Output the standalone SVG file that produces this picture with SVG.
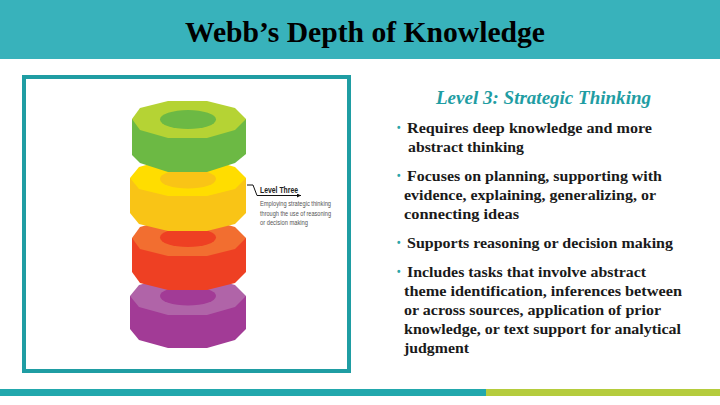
<svg xmlns="http://www.w3.org/2000/svg" width="720" height="405" viewBox="0 0 720 405">
<defs>
<marker id="arrow" markerWidth="5" markerHeight="5" refX="4" refY="2" orient="auto" markerUnits="userSpaceOnUse"><path d="M0 0L4 2L0 4Z" fill="#111"/></marker>
</defs>
<style>
.title{font:bold 29px "Liberation Serif",serif;fill:#000}
.head{font:italic bold 18.500px "Liberation Serif",serif;fill:#1f9da3}
.body{font:bold 15px "Liberation Serif",serif;fill:#1a1a1a}
.bul{font:bold 10px "Liberation Sans",sans-serif;fill:#2aa5a8}
.lab{font:bold 8.500px "Liberation Sans",sans-serif;fill:#222}
.sm{font:8px "Liberation Sans",sans-serif;fill:#555}
.lead{fill:none;stroke:#111;stroke-width:1}
</style>
<rect width="720" height="405" fill="#fff"/>
<rect id="header" width="720" height="59" fill="#38b2bb"/>
<text class="title" x="185" y="42" textLength="360" lengthAdjust="spacingAndGlyphs">Webb’s Depth of Knowledge</text>
<rect id="frame" x="24" y="77" width="325" height="294" fill="#fff" stroke="#1f9da3" stroke-width="4"/>
<g id="disk-purple">
<polygon fill="#a23b96" points="130,296 246,296 246,329 235,340 207,348 168,348 139,340 130,329"/>
<polygon fill="#b064a8" points="130,296 139,285 168,277 207,277 235,285 246,296 235,307 207,315 168,315 139,307"/>
<ellipse cx="188" cy="296" rx="28" ry="9.500" fill="#a23b96"/>
</g>
<g id="disk-red">
<polygon fill="#ee4023" points="132,238 246,238 246,272 235,283 207,290 168,290 140,283 132,272"/>
<polygon fill="#f26e30" points="132,238 140,227 168,219 207,219 235,227 246,238 235,249 207,256 168,256 140,249"/>
<ellipse cx="188" cy="237.500" rx="28" ry="9.500" fill="#ee4023"/>
</g>
<g id="disk-yellow">
<polygon fill="#f9c416" points="130,178 246,178 246,213 235,224 207,231 168,231 139,224 130,213"/>
<polygon fill="#ffdd00" points="130,178 139,167 168,159 207,159 235,167 246,178 235,189 207,196 168,196 139,189"/>
<ellipse cx="188" cy="179" rx="28" ry="9.500" fill="#f9c416"/>
</g>
<g id="disk-green">
<polygon fill="#6cb944" points="132,119 246,119 246,154 235,163 207,172 168,172 140,163 132,155"/>
<polygon fill="#b5d334" points="132,119 140,108 168,101 207,101 235,108 246,119 235,130 207,138 168,138 140,130"/>
<ellipse cx="188" cy="119.500" rx="28" ry="9.500" fill="#6cb944"/>
</g>
<g id="connectors">
<path class="lead" d="M247 185H253L257 195.500H301" marker-end="url(#arrow)"/>
</g>
<g id="label-level-three">
<text class="lab" x="260" y="192.500" textLength="38" lengthAdjust="spacingAndGlyphs">Level Three</text>
<text class="sm" x="260" y="205.500" textLength="71" lengthAdjust="spacingAndGlyphs">Employing strategic thinking</text>
<text class="sm" x="260" y="215.500" textLength="71" lengthAdjust="spacingAndGlyphs">through the use of reasoning</text>
<text class="sm" x="260" y="225" textLength="48" lengthAdjust="spacingAndGlyphs">or decision making</text>
</g>
<g id="content">
<text class="head" x="436" y="104" textLength="215" lengthAdjust="spacingAndGlyphs">Level 3: Strategic Thinking</text>
<text class="bul" x="397" y="131">•</text>
<text class="body" x="407" y="133" textLength="245" lengthAdjust="spacingAndGlyphs">Requires deep knowledge and more</text>
<text class="body" x="408" y="152" textLength="116" lengthAdjust="spacingAndGlyphs">abstract thinking</text>
<text class="bul" x="397" y="179">•</text>
<text class="body" x="407" y="181" textLength="255" lengthAdjust="spacingAndGlyphs">Focuses on planning, supporting with</text>
<text class="body" x="404" y="200" textLength="252" lengthAdjust="spacingAndGlyphs">evidence, explaining, generalizing, or</text>
<text class="body" x="404" y="219" textLength="115" lengthAdjust="spacingAndGlyphs">connecting ideas</text>
<text class="bul" x="397" y="246">•</text>
<text class="body" x="407" y="248" textLength="266" lengthAdjust="spacingAndGlyphs">Supports reasoning or decision making</text>
<text class="bul" x="397" y="275">•</text>
<text class="body" x="407" y="277" textLength="239" lengthAdjust="spacingAndGlyphs">Includes tasks that involve abstract</text>
<text class="body" x="404" y="296" textLength="278" lengthAdjust="spacingAndGlyphs">theme identification, inferences between</text>
<text class="body" x="404" y="315" textLength="257" lengthAdjust="spacingAndGlyphs">or across sources, application of prior</text>
<text class="body" x="404" y="334" textLength="277" lengthAdjust="spacingAndGlyphs">knowledge, or text support for analytical</text>
<text class="body" x="404" y="353" textLength="65" lengthAdjust="spacingAndGlyphs">judgment</text>
</g>
<rect id="bar-teal" x="0" y="389" width="486" height="7" fill="#22a8ad"/>
<rect id="bar-lime" x="486" y="389" width="234" height="7" fill="#b5cc3d"/>
</svg>
